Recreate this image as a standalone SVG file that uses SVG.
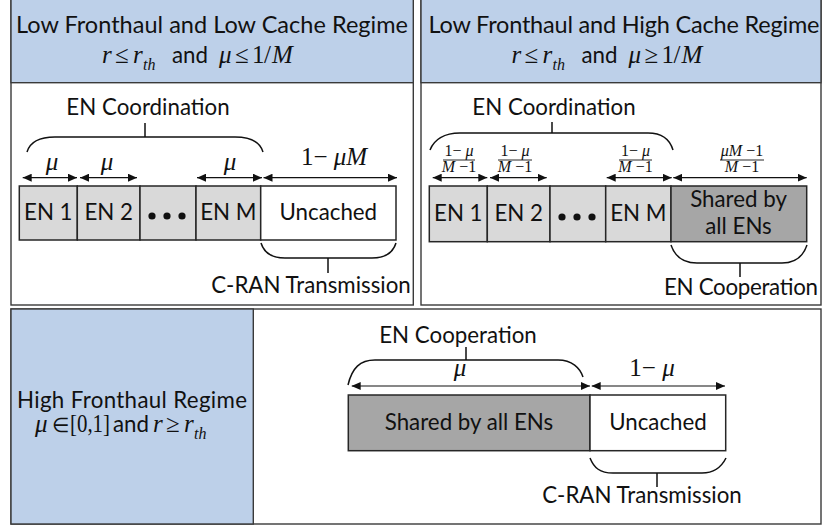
<svg xmlns="http://www.w3.org/2000/svg" width="822" height="529" viewBox="0 0 822 529">
<defs>
<style>
.panel{fill:#fff;stroke:#3a3a3a;stroke-width:1.4}
.hdr{fill:#bdd0e9;stroke:#3a3a3a;stroke-width:1.4}
.en{fill:#d9d9d9;stroke:#262626;stroke-width:1.5}
.sh{fill:#a6a6a6;stroke:#262626;stroke-width:1.5}
.un{fill:#fff;stroke:#262626;stroke-width:1.5}
.t{font-family:Lato,"Open Sans",sans-serif;font-size:22.3px;fill:#111}
.tm{font-family:Lato,"Open Sans",sans-serif;font-size:22.3px;fill:#111;text-anchor:middle}
.ttl{font-size:23.5px}
.m{font-family:"Liberation Serif","Times New Roman",serif;font-size:25px;fill:#111}
.mi{font-style:italic}
.fr{font-family:"Liberation Serif","Times New Roman",serif;font-size:16px;fill:#111;text-anchor:middle}
.ar{stroke:#111;stroke-width:1.2;fill:none;marker-start:url(#ah);marker-end:url(#ah)}
.br{stroke:#111;stroke-width:1.5;fill:none}
.bar{stroke:#111;stroke-width:0.9}
</style>
<marker id="ah" markerUnits="userSpaceOnUse" markerWidth="9" markerHeight="8" refX="9" refY="4" orient="auto-start-reverse">
<path d="M0,0 L9,4 L0,8 z" fill="#111"/>
</marker>
</defs>

<!-- Top-left panel -->
<g id="panel-low-low">
<rect class="panel" x="11" y="-2" width="402.3" height="307"/>
<rect class="hdr" x="11" y="-2" width="402.3" height="84.7"/>
<text class="tm ttl" x="212" y="33" textLength="392">Low Fronthaul and Low Cache Regime</text>
<text class="m" y="63"><tspan class="mi" x="102">r</tspan><tspan x="115">≤</tspan><tspan class="mi" x="133">r</tspan><tspan class="mi" x="143" y="70" font-size="16">th</tspan></text>
<text class="t" x="172" y="63">and</text>
<text class="m" y="63"><tspan class="mi" x="219">μ</tspan><tspan x="235">≤</tspan><tspan x="252">1</tspan><tspan x="264">/</tspan><tspan class="mi" x="272">M</tspan></text>
</g>

<!-- Top-right panel -->
<g id="panel-low-high">
<rect class="panel" x="421" y="-2" width="400" height="307"/>
<rect class="hdr" x="421" y="-2" width="400" height="84.7"/>
<text class="tm ttl" x="624" y="33" textLength="391">Low Fronthaul and High Cache Regime</text>
<text class="m" y="63"><tspan class="mi" x="511.5">r</tspan><tspan x="524.5">≤</tspan><tspan class="mi" x="542.5">r</tspan><tspan class="mi" x="552.5" y="70" font-size="16">th</tspan></text>
<text class="t" x="581.5" y="63">and</text>
<text class="m" y="63"><tspan class="mi" x="628.5">μ</tspan><tspan x="644.5">≥</tspan><tspan x="661.5">1</tspan><tspan x="673.5">/</tspan><tspan class="mi" x="681.5">M</tspan></text>
</g>

<!-- Bottom panel -->
<g id="panel-high">
<rect class="panel" x="11" y="309" width="810" height="215"/>
<rect class="hdr" x="11" y="309" width="242.3" height="215"/>
<text class="tm" x="132" y="408" font-size="23.2" textLength="230">High Fronthaul Regime</text>
<text class="m" y="431.5"><tspan class="mi" x="35">μ</tspan><tspan x="52" font-size="20">∈</tspan></text>
<text class="m" x="70" y="431.5" textLength="40" lengthAdjust="spacingAndGlyphs">[0,1]</text>
<text class="t" x="113" y="431.5">and</text>
<text class="m" y="431.5"><tspan class="mi" x="153">r</tspan><tspan x="166">≥</tspan><tspan class="mi" x="184">r</tspan><tspan class="mi" x="194" y="439" font-size="16">th</tspan></text>
</g>

<!-- Top-left boxes -->
<g id="tl-en1"><rect class="en" x="19.3" y="186" width="58" height="54"/><text class="tm" x="48.3" y="220">EN 1</text></g>
<g id="tl-en2"><rect class="en" x="77.3" y="186" width="62.7" height="54"/><text class="tm" x="108.7" y="220">EN 2</text></g>
<g id="tl-dots"><rect class="en" x="140" y="186" width="56" height="54"/><circle cx="152" cy="216" r="3.6" fill="#111"/><circle cx="167" cy="216" r="3.6" fill="#111"/><circle cx="182" cy="216" r="3.6" fill="#111"/></g>
<g id="tl-enm"><rect class="en" x="196" y="186" width="64.7" height="54"/><text class="tm" x="228.3" y="220">EN M</text></g>
<g id="tl-unc"><rect class="un" x="260.7" y="186" width="135.3" height="54"/><text class="tm" x="328.3" y="220">Uncached</text></g>

<!-- Top-right boxes -->
<g id="tr-en1"><rect class="en" x="429.3" y="186" width="58" height="55.7"/><text class="tm" x="458.3" y="221">EN 1</text></g>
<g id="tr-en2"><rect class="en" x="487.3" y="186" width="62.7" height="55.7"/><text class="tm" x="518.7" y="221">EN 2</text></g>
<g id="tr-dots"><rect class="en" x="550" y="186" width="55.7" height="55.7"/><circle cx="562" cy="217" r="3.6" fill="#111"/><circle cx="577" cy="217" r="3.6" fill="#111"/><circle cx="592" cy="217" r="3.6" fill="#111"/></g>
<g id="tr-enm"><rect class="en" x="605.7" y="186" width="65.3" height="55.7"/><text class="tm" x="638.3" y="221">EN M</text></g>
<g id="tr-shared"><rect class="sh" x="671" y="186" width="135.7" height="55.7"/><text class="tm" x="738.5" y="207">Shared by</text><text class="tm" x="738.5" y="234">all ENs</text></g>

<!-- Bottom boxes -->
<g id="b-shared"><rect class="sh" x="348.3" y="395" width="241.7" height="55.7"/><text class="tm" x="469" y="430">Shared by all ENs</text></g>
<g id="b-unc"><rect class="un" x="590" y="395" width="135.7" height="55.7"/><text class="tm" x="658" y="430">Uncached</text></g>

<!-- Connectors: arrows and braces -->
<g id="connectors">
<path class="ar" d="M22.7,177.7 H77"/>
<path class="ar" d="M80,177.7 H137"/>
<path class="ar" d="M197,177.7 H262"/>
<path class="ar" d="M263.5,177.7 H397"/>
<path class="br" d="M27,152 C30,142 40,137 55,137 L235,137 C250,137 260,142 263,152 M145,137 V123"/>
<path class="br" d="M261,243 C264,253 272,258 285,258 L372,258 C385,258 393,253 396,243 M328,258 V273"/>

<path class="ar" d="M432.7,177.7 H487.3"/>
<path class="ar" d="M490,177.7 H546.7"/>
<path class="ar" d="M606.7,177.7 H671.7"/>
<path class="ar" d="M673.3,177.7 H806.7"/>
<path class="br" d="M430,150 C434,140 444,133 460,133 L648,133 C662,133 670,140 673,150 M552,133 V122"/>
<path class="br" d="M671,245 C675,257 683,263 697,263 L782,263 C795,263 803,257 807,245 M740,263 V277"/>

<path class="ar" d="M351.7,386 H590"/>
<path class="ar" d="M591.7,386 H725"/>
<path class="br" d="M348,385 C352,368 360,360 375,360 L558,360 C572,360 580,368 583,377 M466,360 V347"/>
<path class="br" d="M590,458 C594,468 600,473 613,473 L702,473 C714,473 721,468 726,458 M657,473 V487"/>
</g>

<!-- Labels -->
<g id="labels">
<text class="tm" x="148" y="115">EN Coordination</text>
<text class="m mi" x="52" y="170" text-anchor="middle" font-size="24">μ</text>
<text class="m mi" x="107" y="170" text-anchor="middle" font-size="24">μ</text>
<text class="m mi" x="230" y="170" text-anchor="middle" font-size="24">μ</text>
<text class="m" x="334" y="165" text-anchor="middle">1− <tspan class="mi">μM</tspan></text>
<text class="tm" x="311" y="293">C-RAN Transmission</text>

<text class="tm" x="554" y="115">EN Coordination</text>
<text class="fr" x="459" y="156">1− <tspan class="mi">μ</tspan></text><path class="bar" d="M443,160 H475"/><text class="fr" x="459" y="171.5"><tspan class="mi">M</tspan> −1</text>
<text class="fr" x="515" y="156">1− <tspan class="mi">μ</tspan></text><path class="bar" d="M498,160 H532"/><text class="fr" x="515" y="171.5"><tspan class="mi">M</tspan> −1</text>
<text class="fr" x="635.5" y="156">1− <tspan class="mi">μ</tspan></text><path class="bar" d="M619,160 H652"/><text class="fr" x="635.5" y="171.5"><tspan class="mi">M</tspan> −1</text>
<text class="fr" x="742" y="156"><tspan class="mi">μM</tspan> −1</text><path class="bar" d="M720,160 H764"/><text class="fr" x="742" y="171.5"><tspan class="mi">M</tspan> −1</text>
<text class="tm" x="741" y="295" textLength="154">EN Cooperation</text>

<text class="tm" x="458" y="343">EN Cooperation</text>
<text class="m mi" x="460" y="376" text-anchor="middle" font-size="24">μ</text>
<text class="m" x="652" y="376" text-anchor="middle" font-size="24">1− <tspan class="mi">μ</tspan></text>
<text class="tm" x="642" y="503">C-RAN Transmission</text>
</g>
</svg>
